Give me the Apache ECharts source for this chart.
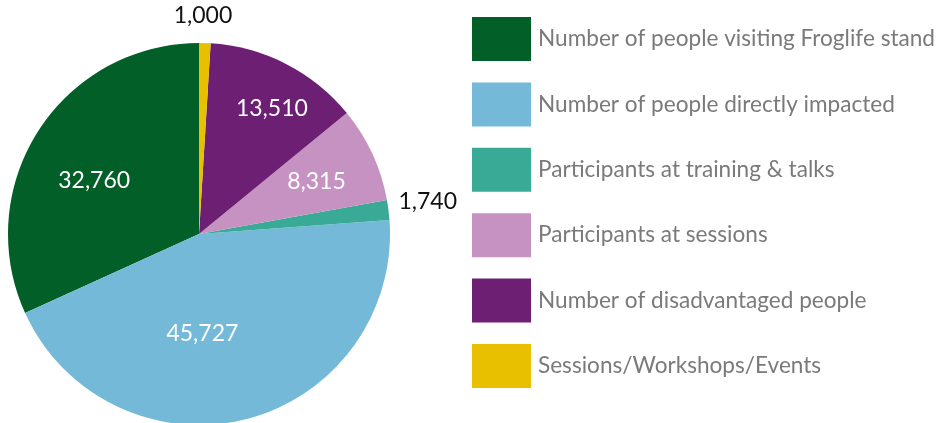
<!DOCTYPE html>
<html><head><meta charset="utf-8">
<script src="https://cdn.jsdelivr.net/npm/echarts@6/dist/echarts.min.js"></script>
<style>html,body{margin:0;padding:0;background:#fff}#c{width:941px;height:423px}</style>
</head><body><div id="c"></div>
<script>
const categories = ["Number of people visiting Froglife stand","Number of people directly impacted","Participants at training & talks","Participants at sessions","Number of disadvantaged people","Sessions/Workshops/Events"];
const values = [32760, 45727, 1740, 8315, 13510, 1000];
const colors = ["#025f27","#74bad8","#38aa96","#c592c1","#6c1f73","#e8c000"];
const labelColors = ["#fff","#fff","#111","#fff","#fff","#111"];
const labelShift = [[-22,0],[-21,4],[131,-20],[28,-11],[28,-38],[1,-120]];

const chart = echarts.init(document.getElementById('c'));
chart.setOption({
  animation:false,
  legend:{
    orient:'vertical', left:467, top:12, itemWidth:59, itemHeight:44, itemGap:21.4,
    icon:'rect', data:categories,
    textStyle:{fontFamily:'Lato', fontSize:22.6, color:'#7a7a7a', padding:[0,0,0,2]}
  },
  series:[{
    type:'pie', center:[199,234], radius:[0,191], startAngle:90, clockwise:false,
    silent:true,
    data: categories.map((n,i)=>({name:n, value:values[i], itemStyle:{color:colors[i]},
      label:{color:labelColors[i]}})),
    label:{show:true, position:'inside', fontFamily:'Lato', fontSize:23,
      formatter:p=>p.value.toLocaleString('en-US')},
    labelLine:{show:false},
    labelLayout:p=>({dx:labelShift[p.dataIndex][0], dy:labelShift[p.dataIndex][1]})
  }]
});
</script></body></html>
